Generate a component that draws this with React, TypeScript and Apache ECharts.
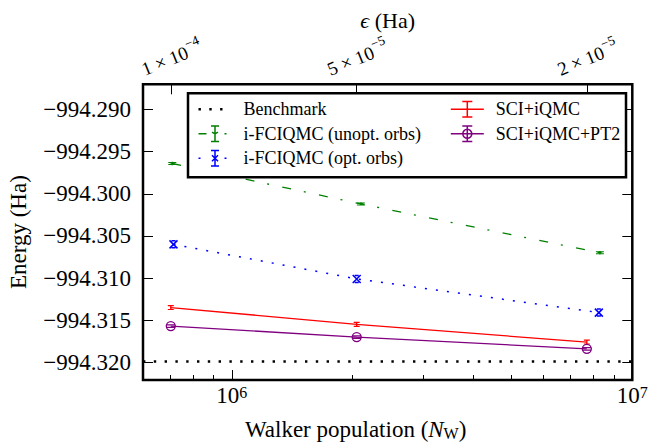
import React, { useEffect, useRef } from "react";
import * as echarts from "echarts";

// ---- data ----
const X_MIN = 6e5;
const X_MAX = 1e7;
const Y_MIN = -994.3221;
const Y_MAX = -994.287;

const N_UNOPT = [7.1e5, 2.1e6, 8.3e6];
const E_UNOPT = [-994.2964, -994.3012, -994.307];
const N_OPT = [7.15e5, 2.05e6, 8.25e6];
const E_OPT = [-994.306, -994.3101, -994.3141];
const N_SCI = [7.04e5, 2.05e6, 7.7e6];
const E_SCI = [-994.3135, -994.3155, -994.3176];
const E_SCI_PT2 = [-994.3157, -994.317, -994.3184];
const E_BENCHMARK = -994.3199;

const EPS_MANTISSA = ["1", "5", "2"];
const EPS_EXPONENT = ["−4", "−5", "−5"];

const Y_TICKS = [-994.29, -994.295, -994.3, -994.305, -994.31, -994.315, -994.32];
const X_MAJOR = [1e6, 1e7];
const X_MINOR = [7e5, 8e5, 9e5, 2e6, 3e6, 4e6, 5e6, 6e6, 7e6, 8e6, 9e6];

const NAMES = [
  "Benchmark",
  "i-FCIQMC (unopt. orbs)",
  "i-FCIQMC (opt. orbs)",
  "SCI+iQMC",
  "SCI+iQMC+PT2",
];

// ---- styling ----
const FONT = "Liberation Serif";
const GREEN = "#008000";
const BLUE = "#0000ff";
const RED = "#ff0000";
const PURPLE = "#800080";
const GRID_TOP = 84.3;
const TOP_LABEL_GAP = 28;
const TOP_LABEL_ROT = (22 * Math.PI) / 180;

const txt = (fontSize: number, extra: any = {}) => ({
  fontFamily: FONT,
  fontSize,
  fontWeight: "normal",
  color: "#000",
  ...extra,
});

const lg = Math.log10;
const pts = (xs: number[], ys: number[]) => xs.map((x, i) => [lg(x), ys[i]]);

// legend icons, drawn in a 33 x 17 box (stroked)
const BOX = "M0 0L0 0M33 17L33 17";
const ERR = "M16.5 0.75L16.5 16.25M12.5 0.75L20.5 0.75M12.5 16.25L20.5 16.25";
const ERR_W = "M16.5 0.75L16.5 16.25M11.5 0.75L21.5 0.75M11.5 16.25L21.5 16.25";
const ICON_BENCH = `path://${BOX}M0 8.5L2.4 8.5M10.8 8.5L13.2 8.5M21.6 8.5L24 8.5`;
const ICON_UNOPT = `path://${BOX}M0 8.5L8 8.5M26 8.5L28 8.5${ERR}M16.5 8.5L16.5 12M16.5 8.5L13.5 6.8M16.5 8.5L19.5 6.8`;
const ICON_OPT = `path://${BOX}M0 8.5L2 8.5M26 8.5L28 8.5${ERR}M13.5 5.5L19.5 11.5M19.5 5.5L13.5 11.5`;
const ICON_SCI = `path://${BOX}M0 8.5L33 8.5${ERR_W}`;
const ICON_PT2 = `path://${BOX}M0 8.5L33 8.5${ERR_W}M21 8.5A4.5 4.5 0 1 1 12 8.5A4.5 4.5 0 1 1 21 8.5`;

// plot markers (stroked)
const SYM_UNOPT = "path://M0 0L0 0M9 6L9 6M0.5 1.5L8.5 1.5M0.5 4.5L8.5 4.5M4.5 0.5L4.5 5.5M4.5 3L2 1.5M4.5 3L7 1.5";
const SYM_OPT = "path://M0 0L8 8M8 0L0 8M2 0.5L6 0.5M2 7.5L6 7.5";
const SYM_SCI = "path://M0 0L0 0M7 6L7 6M0.5 0.75L6.5 0.75M0.5 5.25L6.5 5.25M3.5 0.75L3.5 5.25";
const SYM_PT2 = "path://M0 0L0 0M10 10L10 10M9.5 5A4.5 4.5 0 1 1 0.5 5A4.5 4.5 0 1 1 9.5 5M1 3.8L9 3.8M1 6.2L9 6.2";

const legendItem = (name: string, icon: string, color: string, width = 1.5) => ({
  name,
  icon,
  itemStyle: { color: "none", borderColor: color, borderWidth: width, borderType: "solid" },
});

const tickStyle = { color: "#000", width: 1 };

function buildOption(): any {
  const xMin = lg(X_MIN);
  const xMax = lg(X_MAX);
  const legendText = txt(18, { lineHeight: 17, padding: [0, 0, 0, 7] });
  return {
    animation: false,
    grid: {
      left: 143,
      top: GRID_TOP,
      width: 489.3,
      height: 295.7,
      show: true,
      borderColor: "#000",
      borderWidth: 2.5,
      backgroundColor: "transparent",
      containLabel: false,
      outerBoundsMode: "none",
    },
    legend: [
      {
        orient: "vertical",
        left: 188,
        top: 93.3,
        padding: [5, 205, 8, 8],
        itemWidth: 33,
        itemHeight: 17,
        itemGap: 2.5,
        borderColor: "#000",
        borderWidth: 2.5,
        borderRadius: 0,
        backgroundColor: "#fff",
        selectedMode: false,
        symbolKeepAspect: true,
        textStyle: legendText,
        data: [
          legendItem(NAMES[0], ICON_BENCH, "#000", 2.5),
          legendItem(NAMES[1], ICON_UNOPT, GREEN),
          legendItem(NAMES[2], ICON_OPT, BLUE),
        ],
      },
      {
        orient: "vertical",
        left: 448.3,
        top: 93.3,
        padding: [5, 0, 0, 0],
        itemWidth: 33,
        itemHeight: 17,
        itemGap: 2.5,
        z: 6,
        selectedMode: false,
        symbolKeepAspect: true,
        textStyle: legendText,
        data: [legendItem(NAMES[3], ICON_SCI, RED), legendItem(NAMES[4], ICON_PT2, PURPLE)],
      },
    ],
    xAxis: [
      {
        type: "value",
        position: "bottom",
        min: xMin,
        max: xMax,
        axisLine: { show: false },
        splitLine: { show: false },
        axisTick: {
          show: true,
          inside: true,
          length: 10,
          lineStyle: tickStyle,
          customValues: X_MAJOR.map(lg),
        },
        axisLabel: {
          customValues: X_MAJOR.map(lg),
          margin: 4,
          ...txt(23),
          formatter: (v: number) => `{b|10}{s|${Math.round(v)}}`,
          rich: {
            b: txt(23, { lineHeight: 23, padding: [5.5, 0, 0, 0], verticalAlign: "bottom" }),
            s: txt(16, { lineHeight: 16, verticalAlign: "top" }),
          },
        },
        name: "Walker population ({i|N}{sub|W})",
        nameLocation: "middle",
        nameGap: 38,
        nameTextStyle: txt(23, {
          padding: [0, 64, 0, 0],
          rich: {
            i: txt(23, { fontStyle: "italic" }),
            sub: txt(16, { lineHeight: 16, verticalAlign: "bottom" }),
          },
        }),
      },
      {
        type: "value",
        position: "bottom",
        min: xMin,
        max: xMax,
        axisLine: { show: false },
        splitLine: { show: false },
        axisLabel: { show: false },
        axisTick: {
          show: true,
          inside: true,
          length: 5,
          lineStyle: tickStyle,
          customValues: X_MINOR.map(lg),
        },
      },
      {
        type: "value",
        position: "top",
        min: xMin,
        max: xMax,
        axisLine: { show: false },
        splitLine: { show: false },
        axisTick: {
          show: true,
          inside: true,
          length: 10,
          lineStyle: tickStyle,
          customValues: N_SCI.map(lg),
        },
        axisLabel: { show: false },
        name: "{i|ϵ} (Ha)",
        nameLocation: "middle",
        nameGap: 53,
        nameTextStyle: txt(22, { rich: { i: txt(22, { fontStyle: "italic" }) } }),
      },
    ],
    yAxis: [
      {
        type: "value",
        position: "left",
        min: Y_MIN,
        max: Y_MAX,
        axisLine: { show: false },
        splitLine: { show: false },
        axisTick: { show: true, inside: true, length: 10, lineStyle: tickStyle, customValues: Y_TICKS },
        axisLabel: {
          customValues: Y_TICKS,
          margin: 12,
          ...txt(23),
          formatter: (v: number) => v.toFixed(3).replace("-", "−"),
        },
        name: "Energy (Ha)",
        nameLocation: "middle",
        nameRotate: 90,
        nameGap: 113,
        nameTextStyle: txt(23),
      },
      {
        type: "value",
        position: "right",
        min: Y_MIN,
        max: Y_MAX,
        axisLine: { show: false },
        splitLine: { show: false },
        axisLabel: { show: false },
        axisTick: { show: true, inside: true, length: 10, lineStyle: tickStyle, customValues: Y_TICKS },
      },
    ],
    series: [
      {
        name: NAMES[0],
        type: "line",
        xAxisIndex: 0,
        yAxisIndex: 0,
        data: [
          [xMin, E_BENCHMARK],
          [xMax, E_BENCHMARK],
        ],
        symbol: "none",
        silent: true,
        lineStyle: { color: "#000", width: 2.5, type: [2.4, 8.4], cap: "butt" },
        z: 2,
      },
      {
        name: NAMES[1],
        type: "line",
        data: pts(N_UNOPT, E_UNOPT),
        symbol: SYM_UNOPT,
        symbolSize: [9, 6],
        symbolKeepAspect: true,
        silent: true,
        lineStyle: { color: GREEN, width: 1.3, type: [9, 13, 2, 13.5], cap: "butt" },
        itemStyle: { color: "none", borderColor: GREEN, borderWidth: 1.3 },
        z: 3,
      },
      {
        name: NAMES[2],
        type: "line",
        data: pts(N_OPT, E_OPT),
        symbol: SYM_OPT,
        symbolSize: [8, 8],
        symbolKeepAspect: true,
        silent: true,
        lineStyle: { color: BLUE, width: 1.5, type: [2, 9.1], cap: "butt" },
        itemStyle: { color: "none", borderColor: BLUE, borderWidth: 1.5 },
        z: 3,
      },
      {
        name: NAMES[3],
        type: "line",
        data: pts(N_SCI, E_SCI),
        symbol: SYM_SCI,
        symbolSize: [7, 6],
        symbolKeepAspect: true,
        silent: true,
        lineStyle: { color: RED, width: 1.3 },
        itemStyle: { color: "none", borderColor: RED, borderWidth: 1.3 },
        z: 3,
      },
      {
        name: NAMES[4],
        type: "line",
        data: pts(N_SCI, E_SCI_PT2),
        symbol: SYM_PT2,
        symbolSize: [10, 10],
        symbolKeepAspect: true,
        silent: true,
        lineStyle: { color: PURPLE, width: 1.3 },
        itemStyle: { color: "none", borderColor: PURPLE, borderWidth: 1.3 },
        z: 3,
      },
    ],
  };
}

// rotated epsilon tick labels of the top axis, placed at the axis' own pixel positions
function topLabels(chart: any): any[] {
  return N_SCI.map((n, i) => {
    const px = chart.convertToPixel({ xAxisIndex: 2 }, lg(n));
    const base = {
      fontFamily: FONT,
      fontWeight: "normal",
      fill: "#000",
      verticalAlign: "middle",
      textVerticalAlign: "middle",
    };
    return {
      type: "group",
      x: px,
      y: GRID_TOP - TOP_LABEL_GAP,
      rotation: TOP_LABEL_ROT,
      silent: true,
      z: 10,
      children: [
        {
          type: "text",
          x: 17.1,
          y: 2,
          style: { ...base, text: `${EPS_MANTISSA[i]} × 10`, fontSize: 19, align: "right", textAlign: "right" },
        },
        {
          type: "text",
          x: 17.6,
          y: -5.5,
          style: { ...base, text: EPS_EXPONENT[i], fontSize: 13.5, align: "left", textAlign: "left" },
        },
      ],
    };
  });
}

export default function App() {
  const ref = useRef<HTMLDivElement>(null);
  useEffect(() => {
    if (!ref.current) return;
    const chart = echarts.init(ref.current, null, { renderer: "svg" });
    chart.setOption(buildOption());
    chart.setOption({ graphic: topLabels(chart) });
    return () => chart.dispose();
  }, []);
  return (
    <div
      ref={ref}
      style={{ position: "fixed", left: 0, top: 0, width: 648, height: 444, background: "#fff" }}
    />
  );
}
